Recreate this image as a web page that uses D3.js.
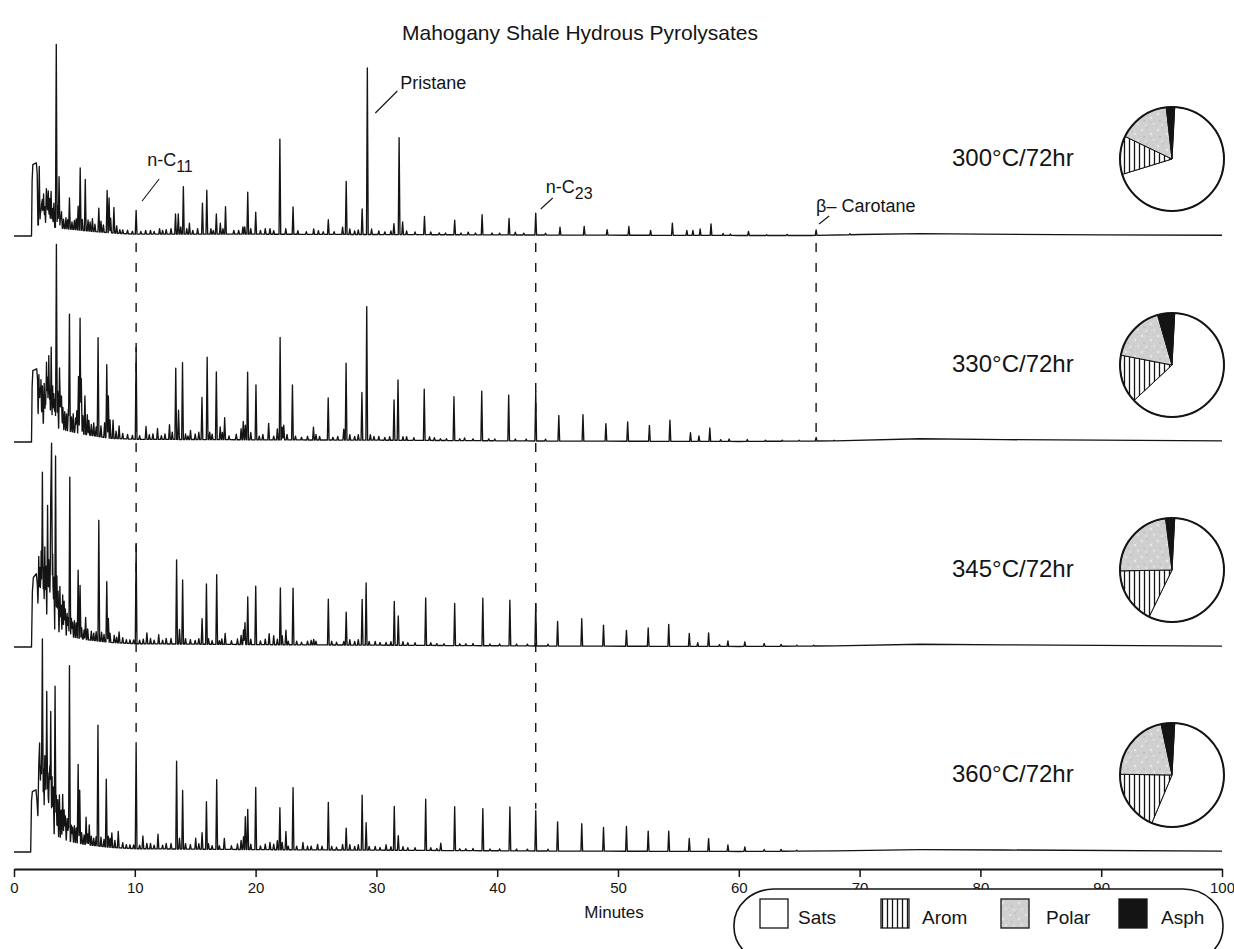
<!DOCTYPE html>
<html>
<head>
<meta charset="utf-8">
<script src="https://cdn.jsdelivr.net/npm/d3@7"></script>
<style>
  html, body { margin: 0; padding: 0; background: #fff; }
  svg { display: block; font-family: "Liberation Sans", Arial, Helvetica, sans-serif; }
</style>
</head>
<body>
<svg id="chart" width="1234" height="949"></svg>
<script>
// ---------------- data ----------------
const chartTitle = "Mahogany Shale Hydrous Pyrolysates";
const runLabels = ["300°C/72hr", "330°C/72hr", "345°C/72hr", "360°C/72hr"];
const axisTicks = [0, 10, 20, 30, 40, 50, 60, 70, 80, 90, 100];
const axisTitle = "Minutes";

// bulk composition (percent of pyrolysate)
const fractionNames = ["Sats", "Arom", "Polar", "Asph"];
const fractions300 = [69.4, 11.9, 16.1, 2.6];
const fractions330 = [62.2, 15.0, 17.5, 5.3];
const fractions345 = [56.4, 17.5, 23.3, 2.8];
const fractions360 = [55.5, 18.9, 21.4, 4.2];

// detector baseline [minutes, % full scale]: solvent plateau, unresolved hump, late rise
const base300 = [[0,0],[1.45,0],[1.5,30],[1.56,39],[1.85,40],[1.92,34],[1.98,6],[2.6,6],[3.6,4.5],[5,3.5],[6.5,2.5],[8.5,1.5],[10,1],[20,1],[30,0.8],[45,0.5],[60,0.3],[66,0.3],[70,0.8],[75,1.3],[80,1.0],[90,0.6],[100,0.4]];
const base330 = [[0,0],[1.45,0],[1.5,30],[1.56,39],[1.88,40],[1.95,34],[2.0,12],[2.5,10],[3.5,8],[4.5,6],[6,4],[8,2],[10,1.5],[20,1.2],[30,1],[45,0.5],[60,0.3],[68,0.6],[75,1.8],[82,1.3],[100,0.6]];
const base345 = [[0,0],[1.45,0],[1.52,30],[1.6,38],[1.85,40],[1.93,34],[2.0,20],[2.5,15],[3.0,12],[3.5,9],[4.5,6],[6,4],[8,2.5],[10,1.8],[20,1.3],[30,1],[45,0.5],[60,0.3],[68,0.6],[75,1.5],[82,1.2],[100,0.5]];
const base360 = [[0,0],[1.38,0],[1.45,28],[1.52,33],[1.82,34],[1.9,28],[1.97,20],[2.5,15],[3,12],[3.5,9],[4.5,6],[6,4],[8,2.5],[10,1.8],[20,1.3],[30,1],[45,0.5],[60,0.3],[68,0.6],[75,1.3],[82,1.1],[100,0.5]];

// resolved peaks [retention minutes, height % full scale]
const peaks300 = [
  [2.09,32],[2.2,8],[2.28,11],[2.35,14],[2.45,17],[2.55,10],[2.68,20],[2.75,12],[2.84,19],[2.95,15],[3.07,19],[3.18,10],[3.3,13],[3.5,100],[3.62,12],[3.73,28],[3.85,6],[3.93,9],[4.1,5],[4.3,6],[4.45,5],[4.59,17],[4.8,4],[5.0,5],[5.15,6],[5.31,13],[5.48,34],[5.65,6],[5.9,28],[6.13,6],[6.3,5],[6.49,7],[6.7,4],[7.02,13],[7.2,6],[7.4,4],[7.71,23],[7.87,19],[8.0,8],[8.27,14],[8.5,4],[8.76,2],[9.0,2],[9.4,2],[9.8,1.5],
  [10.11,13],[10.5,1.5],[10.9,2],[11.3,2],[11.6,1.5],[12.05,3],[12.3,2],[12.6,2.5],[13.0,3],[13.37,11],[13.6,11],[13.8,4],[14.02,26],[14.3,3],[14.52,6],[14.8,2],[15.2,3],[15.6,17],[15.96,24],[16.3,3],[16.5,2],[16.75,11],[17.08,6],[17.3,3],[17.51,15],[18.2,2],[18.6,2],[18.95,4],[19.1,4],[19.35,23],[19.6,3],[20.01,12],[20.4,2],[20.8,3],[21.19,3],[21.5,2],[22.01,52],[22.5,3],[23.1,15],[23.5,2],[24.2,1.5],[24.81,3],[25.2,2],[25.6,1.5],[26.02,8],[26.5,1.5],[27.2,4],[27.5,29],[27.8,3],[28.2,2],[28.5,2.5],[28.82,14],[29.25,91],[29.6,3],[30.2,2],[30.7,1.5],[31.2,2],[31.45,6],[31.88,53],[32.17,7],[32.5,2],[33.2,1.5],[33.98,10],[34.5,1.5],[35.2,1],[35.72,1],[36.48,8],[37.0,1],[37.6,1.5],[38.2,1],[38.75,11],[39.57,1],[40.2,1],[40.98,9],[41.5,1.5],[42.2,1],[43.19,12],[44.0,1],
  [45.2,4.3],[47.2,4.8],[49.1,3],[50.9,4.8],[52.7,2.7],[54.5,6.7],[55.7,2.7],[56.2,2.7],[56.8,3.5],[57.7,6.3],[58.7,1.1],[59.3,0.8],[60.8,2.2],[62.3,0.4],[64.0,0.6],[66.4,3],[69.2,0.5]
];
const peaks330 = [
  [2.06,25],[2.15,18],[2.23,23],[2.35,20],[2.5,22],[2.6,15],[2.69,34],[2.78,26],[2.88,38],[2.97,20],[3.08,43],[3.2,22],[3.3,18],[3.4,15],[3.51,100],[3.62,20],[3.77,33],[3.85,14],[3.93,18],[4.05,12],[4.2,10],[4.35,9],[4.5,12],[4.59,64],[4.75,8],[4.9,10],[5.1,8],[5.2,12],[5.34,31],[5.47,63],[5.57,30],[5.7,10],[5.87,21],[6.07,11],[6.2,8],[6.4,6],[6.6,7],[6.8,5],[6.96,54],[7.2,6],[7.5,8],[7.68,40],[7.81,23],[7.95,10],[8.2,10],[8.45,4],[8.7,7],[9.0,3],[9.4,2.5],[9.8,2],
  [10.11,50],[10.4,2],[10.93,7],[11.2,2.5],[11.5,3],[11.88,6],[12.2,2],[12.5,3],[12.87,8],[13.1,4],[13.39,39],[13.62,16],[13.95,42],[14.2,3],[14.4,2],[14.61,5],[15.0,3],[15.3,4],[15.56,23],[15.99,45],[16.2,4],[16.4,3],[16.75,37],[17.07,7],[17.25,4],[17.44,12],[17.8,2],[18.4,3],[18.8,6],[18.98,10],[19.15,8],[19.34,37],[19.6,4],[20.03,30],[20.3,2],[20.6,3],[21.08,9],[21.5,2],[21.8,6],[22.03,56],[22.2,7],[22.33,8],[22.6,3],[23.05,30],[23.3,2],[23.8,1.5],[24.3,2],[24.79,7],[25.0,3],[25.3,2],[26.01,23],[26.4,1.5],[26.8,2],[27.3,6],[27.49,42],[27.8,3],[28.2,2],[28.5,3],[28.8,26],[29.2,73],[29.5,3],[29.8,2],[30.2,2],[30.7,1.5],[31.1,2],[31.46,22],[31.79,33],[32.2,2],[32.5,2],[33.1,1.5],[33.96,28],[34.4,2],[34.8,1.5],[35.3,1],[35.8,1],[36.42,24],[36.9,1],[37.3,1.5],[38.0,1],[38.72,27],[39.3,1],[39.8,1],[40.95,25],[41.5,1],[42.4,1],[43.19,27],[44.0,1],
  [45.1,14],[47.1,14.5],[49.0,9.6],[50.8,10.6],[52.6,8.7],[54.3,11.5],[56.0,4.8],[56.7,3],[57.6,7.3],[58.5,1],[59.2,1.3],[60.7,1],[62.2,0.6],[63.6,0.5],[65.0,0.5],[66.4,2],[67.9,0.3]
];
const peaks345 = [
  [2.05,30],[2.15,25],[2.25,35],[2.35,79],[2.45,28],[2.55,40],[2.65,30],[2.78,64],[2.88,35],[2.95,25],[3.04,69],[3.11,100],[3.2,40],[3.3,28],[3.44,95],[3.55,30],[3.65,22],[3.8,25],[3.9,15],[4.03,21],[4.15,18],[4.25,14],[4.4,12],[4.5,10],[4.62,87],[4.75,10],[4.85,8],[5.0,9],[5.15,8],[5.31,37],[5.47,29],[5.6,6],[5.8,5],[5.93,12],[6.1,6],[6.4,5],[6.6,4],[6.8,5],[7.02,66],[7.25,5],[7.45,4],[7.68,33],[7.81,13],[7.95,5],[8.3,4],[8.5,3],[8.7,6],[9.0,3],[9.3,2],[9.6,2],[9.9,2],
  [10.11,54],[10.4,2],[10.7,2.5],[11.0,6],[11.3,3],[11.6,2],[11.98,5],[12.3,2],[12.6,3],[13.0,3],[13.46,46],[13.7,8],[13.96,35],[14.2,3],[14.6,2.5],[15.0,2],[15.3,3],[15.57,14],[15.93,33],[16.1,3],[16.4,2],[16.78,38],[17.0,2],[17.2,3],[17.48,6],[18.0,2],[18.5,3],[18.8,5],[19.0,8],[19.12,12],[19.35,26],[19.6,3],[20.01,32],[20.4,2],[20.8,3],[21.12,6],[21.5,5],[21.8,3],[22.05,31],[22.2,5],[22.51,8],[22.7,2],[23.1,31],[23.4,2],[23.8,1.5],[24.3,2],[24.6,2.5],[24.81,3],[25.0,2],[26.02,25],[26.3,2],[26.7,1.5],[27.3,2],[27.5,18],[27.8,3],[28.2,2],[28.5,3],[28.82,25],[29.15,34],[29.4,2],[29.9,2],[30.3,1.5],[30.8,1.5],[31.2,2],[31.48,24],[31.81,16],[32.2,2],[32.6,1.5],[33.2,1.5],[34.08,26],[34.5,1.5],[35.0,1],[35.6,1],[36.48,23],[36.9,1],[37.4,1],[38.0,1.2],[38.81,26],[39.4,1],[40.2,1],[41.05,25],[41.6,1],[42.5,1],[43.19,23],[44.2,1],
  [45.0,13.5],[47.0,15],[48.8,11.5],[50.7,8.7],[52.5,10],[54.2,12],[55.9,7],[56.6,2],[57.5,7.4],[58.4,1],[59.1,3],[60.5,2.5],[62.1,1.5],[63.5,1],[64.8,0.5],[66.2,0.5]
];
const peaks360 = [
  [2.05,28],[2.12,41],[2.2,25],[2.27,30],[2.35,100],[2.45,30],[2.55,38],[2.62,28],[2.71,74],[2.8,30],[2.9,25],[2.97,35],[3.04,65],[3.15,30],[3.25,25],[3.4,81],[3.5,22],[3.62,20],[3.76,23],[3.9,15],[4.03,24],[4.15,16],[4.25,13],[4.4,12],[4.5,10],[4.59,96],[4.75,9],[4.85,8],[5.0,9],[5.15,8],[5.31,43],[5.44,29],[5.6,6],[5.8,5],[5.97,15],[6.1,6],[6.23,11],[6.4,5],[6.6,4],[6.8,5],[6.95,66],[7.2,5],[7.45,4],[7.64,37],[7.8,6],[7.95,5],[8.1,8],[8.35,4],[8.63,9],[9.0,3],[9.3,2],[9.6,2],[9.9,2],
  [10.11,58],[10.4,2],[10.67,7],[11.0,3],[11.3,3],[11.6,2],[11.92,8],[12.3,2],[12.6,3],[13.0,3],[13.46,48],[13.7,6],[13.96,32],[14.2,3],[14.6,2.5],[15.04,6],[15.3,3],[15.57,9],[15.93,26],[16.1,3],[16.4,2],[16.78,38],[17.0,2],[17.41,6],[18.0,2],[18.5,3],[18.8,5],[19.0,7],[19.15,18],[19.35,22],[19.6,3],[20.01,34],[20.4,2],[20.8,3],[21.19,4],[21.5,3],[21.8,5],[22.01,23],[22.2,4],[22.51,10],[22.7,2],[23.1,34],[23.4,2],[23.92,4],[24.3,2],[24.6,2],[25.13,3],[25.5,2],[26.02,26],[26.3,2],[26.7,1.5],[27.2,3],[27.5,12],[27.8,3],[28.2,2],[28.5,3],[28.82,30],[29.15,15],[29.4,2],[29.9,2],[30.3,1.5],[30.8,3],[31.2,2],[31.48,24],[31.81,8],[32.2,2],[32.6,1.5],[33.2,1.5],[34.08,28],[34.5,1.5],[35.0,1],[35.33,4],[36.48,24],[36.9,1],[37.4,1],[38.0,1.2],[38.81,23],[39.4,1],[40.2,1],[41.05,24],[41.6,1],[42.5,1],[43.19,22],[44.2,1],
  [45.0,16],[47.0,15],[48.8,13],[50.7,13.5],[52.5,11],[54.2,11],[55.9,7],[57.5,7],[59.1,3.5],[60.5,2.5],[62.1,1],[63.5,1],[64.8,0.5]
];

// marked compounds [retention minutes]
const nC11Time = 10.11;
const nC23Time = 43.19;
const pristaneTime = 29.25;
const carotaneTime = 66.4;

// ---------------- layout ----------------
const svg = d3.select("#chart");
const ink = "#141414";
const x = d3.scaleLinear().domain([0, 100]).range([14, 1222]);
const baselineY = [236, 442, 647, 852];
const fullScale = 183;
const panels = [
  { base: base300, peaks: peaks300, fr: fractions300 },
  { base: base330, peaks: peaks330, fr: fractions330 },
  { base: base345, peaks: peaks345, fr: fractions345 },
  { base: base360, peaks: peaks360, fr: fractions360 }
];
panels.forEach((p, i) => {
  p.y = d3.scaleLinear().domain([0, 100]).range([baselineY[i], baselineY[i] - fullScale]);
  p.bs = d3.scaleLinear().domain(p.base.map(d => d[0])).range(p.base.map(d => d[1]));
});

// ---------------- fill patterns ----------------
const defs = svg.append("defs");
const hatch = defs.append("pattern").attr("id", "hatch")
  .attr("patternUnits", "userSpaceOnUse").attr("width", 5).attr("height", 10);
hatch.append("rect").attr("width", 5).attr("height", 10).attr("fill", "#fff");
hatch.append("line").attr("x1", 2.5).attr("x2", 2.5).attr("y1", 0).attr("y2", 10)
  .attr("stroke", ink).attr("stroke-width", 1.3);

// grainy light-grey screen for the polar fraction
const stip = defs.append("pattern").attr("id", "stipple")
  .attr("patternUnits", "userSpaceOnUse").attr("width", 16).attr("height", 16);
stip.append("rect").attr("width", 16).attr("height", 16).attr("fill", "#d0d0d0");
[[2,3,1.1,"#ececec"],[7,1,0.7,"#b0b0b0"],[11,7,1.2,"#e6e6e6"],[4,10,0.7,"#a8a8a8"],[1,14,0.6,"#bcbcbc"],
 [14,13,0.8,"#f2f2f2"],[8,5,0.5,"#b4b4b4"],[13,2,0.6,"#bdbdbd"],[6,14,1.0,"#e3e3e3"],[10,11,0.5,"#a9a9a9"],
 [15,9,0.5,"#b8b8b8"],[3,7,0.5,"#c0c0c0"],[9,15,0.5,"#b2b2b2"]]
  .forEach(d => stip.append("circle").attr("cx", d[0]).attr("cy", d[1]).attr("r", d[2]).attr("fill", d[3]));

const fills = { Sats: "#fff", Arom: "url(#hatch)", Polar: "url(#stipple)", Asph: ink };

// ---------------- title ----------------
svg.append("text").attr("x", 580).attr("y", 40).attr("text-anchor", "middle")
  .attr("font-size", 21).attr("fill", ink).text(chartTitle);

// ---------------- marker dashed lines ----------------
function peakTop(p, t) {
  const hit = p.peaks.find(d => Math.abs(d[0] - t) < 0.05);
  return p.y(p.bs(t) + (hit ? hit[1] : 0));
}
const dashes = [
  { t: nC11Time, last: 3 },
  { t: nC23Time, last: 3 },
  { t: carotaneTime, last: 1 }
];
dashes.forEach(d => {
  svg.append("line")
    .attr("x1", x(d.t)).attr("x2", x(d.t))
    .attr("y1", baselineY[0] + 7).attr("y2", peakTop(panels[d.last], d.t) - 2)
    .attr("stroke", ink).attr("stroke-width", 1.4).attr("stroke-dasharray", "9,11");
});

// ---------------- chromatogram traces ----------------
const w = 0.07; // half width of a peak at its foot, in minutes
function traceVertices(p) {
  const ts = new Set(p.base.map(d => d[0]));
  p.peaks.forEach(([t]) => { ts.add(+(t - w).toFixed(3)); ts.add(t); ts.add(+(t + w).toFixed(3)); });
  const sorted = Array.from(ts).filter(t => t >= 0 && t <= 100).sort((a, b) => a - b);
  return sorted.map(t => {
    let top = 0;
    p.peaks.forEach(([tp, h]) => {
      const k = 1 - Math.abs(t - tp) / w;
      if (k > 0) top = Math.max(top, h * k);
    });
    return [t, p.bs(t) + top];
  });
}
panels.forEach((p) => {
  const line = d3.line().x(d => x(d[0])).y(d => p.y(d[1]));
  svg.append("path").datum(traceVertices(p))
    .attr("d", line).attr("fill", "none")
    .attr("stroke", ink).attr("stroke-width", 1.35).attr("stroke-linejoin", "round");
});

// ---------------- run labels + composition pies ----------------
const pie = d3.pie().sort(null).value(d => d.v)
  .startAngle(3 * Math.PI / 180).endAngle(363 * Math.PI / 180);
const arc = d3.arc().innerRadius(0).outerRadius(52);
panels.forEach((p, i) => {
  svg.append("text").attr("x", 952).attr("y", baselineY[i] - 70)
    .attr("font-size", 24).attr("fill", ink).text(runLabels[i]);
  const g = svg.append("g").attr("transform", `translate(1172,${baselineY[i] - 77})`);
  const data = fractionNames.map((n, k) => ({ n, v: p.fr[k] }));
  g.selectAll("path").data(pie(data)).join("path")
    .attr("d", arc).attr("fill", d => fills[d.data.n])
    .attr("stroke", ink).attr("stroke-width", 1);
  g.append("circle").attr("r", 52).attr("fill", "none").attr("stroke", ink).attr("stroke-width", 2);
});

// ---------------- compound annotations ----------------
const annoFont = 18;
function leader(x1, y1, x2, y2) {
  svg.append("line").attr("x1", x1).attr("y1", y1).attr("x2", x2).attr("y2", y2)
    .attr("stroke", ink).attr("stroke-width", 1.1);
}
// Pristane
{
  const px = x(pristaneTime);
  leader(px + 8, 113, px + 30, 91);
  svg.append("text").attr("x", px + 33).attr("y", 89).attr("font-size", annoFont).attr("fill", ink).text("Pristane");
}
// n-C11
{
  const px = x(nC11Time);
  leader(px + 6, 201, px + 23, 179);
  const t = svg.append("text").attr("x", px + 11).attr("y", 166).attr("font-size", annoFont).attr("fill", ink);
  t.append("tspan").text("n-C");
  t.append("tspan").attr("dy", 6).attr("font-size", 16).text("11");
}
// n-C23
{
  const px = x(nC23Time);
  leader(px + 5, 209, px + 17, 198);
  const t = svg.append("text").attr("x", px + 10).attr("y", 193).attr("font-size", annoFont).attr("fill", ink);
  t.append("tspan").text("n-C");
  t.append("tspan").attr("dy", 6).attr("font-size", 16).text("23");
}
// beta-Carotane
{
  const px = x(carotaneTime);
  leader(px + 3, 224, px + 13, 216);
  svg.append("text").attr("x", px).attr("y", 212).attr("font-size", annoFont).attr("fill", ink).text("β– Carotane");
}

// ---------------- time axis ----------------
const axisG = svg.append("g").attr("transform", "translate(0,869)")
  .call(d3.axisBottom(x).tickValues(axisTicks).tickSize(8).tickSizeOuter(0).tickPadding(5));
axisG.select(".domain").attr("stroke", ink).attr("stroke-width", 2);
axisG.selectAll(".tick line").attr("stroke", ink).attr("stroke-width", 1.5);
axisG.selectAll(".tick text").attr("fill", ink).attr("font-size", 15)
  .attr("font-family", "Liberation Sans, Arial, sans-serif");
svg.append("text").attr("x", 614).attr("y", 918).attr("text-anchor", "middle")
  .attr("font-size", 17).attr("fill", ink).text(axisTitle);

// ---------------- legend ----------------
const lg = svg.append("g");
lg.append("rect").attr("x", 734).attr("y", 889).attr("width", 489).attr("height", 74)
  .attr("rx", 40).attr("ry", 36).attr("fill", "#fff").attr("stroke", ink).attr("stroke-width", 1.6);
const legendBoxX = [760, 881, 1001, 1119];
const legendTextX = [798, 922, 1046, 1161];
fractionNames.forEach((n, k) => {
  lg.append("rect").attr("x", legendBoxX[k]).attr("y", 899).attr("width", 28).attr("height", 29)
    .attr("fill", fills[n]).attr("stroke", ink).attr("stroke-width", 1.3);
  lg.append("text").attr("x", legendTextX[k]).attr("y", 924).attr("font-size", 19)
    .attr("fill", ink).text(n);
});
</script>
</body>
</html>
